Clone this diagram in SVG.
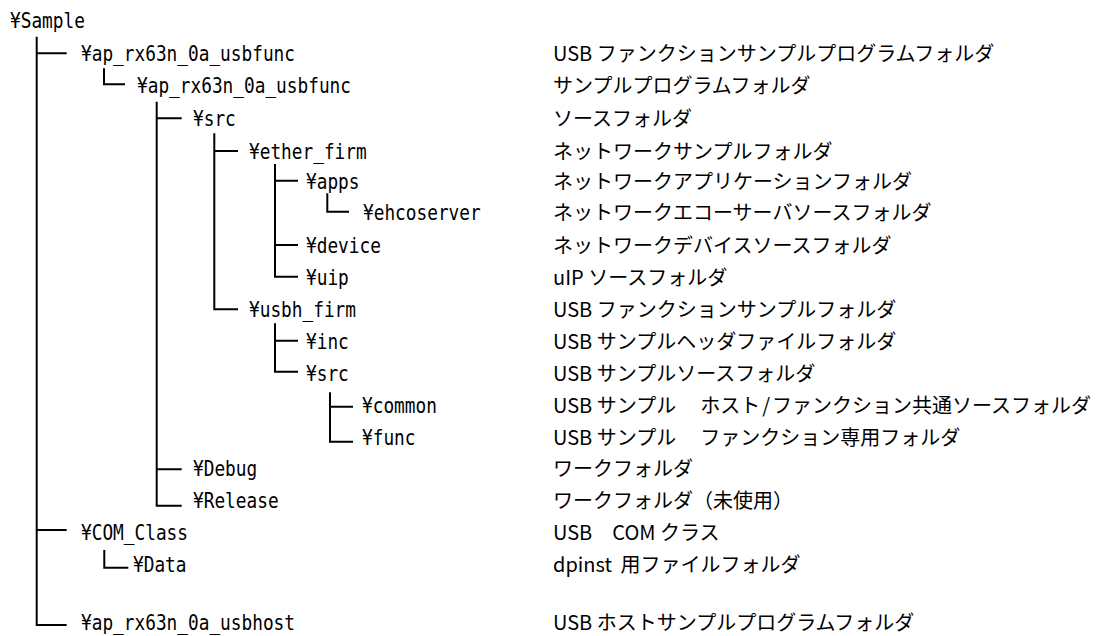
<svg xmlns="http://www.w3.org/2000/svg" width="1114" height="636" viewBox="0 0 1114 636">
<style>
.n{font-family:"DejaVu Sans Mono","Liberation Mono",monospace;font-size:20.5px;fill:#000}
.d{font-family:"Noto Sans CJK JP","Noto Sans",sans-serif;font-size:20px;fill:#000}
.c{fill:none;stroke:#000;stroke-width:2}
</style>
<rect width="1114" height="636" fill="#fff"/>
<g id="connectors" class="c">
<path d="M36.7,36.7 V625 H66.7 M36.7,53.3 H66.7 M36.7,530 H66.7"/>
<path d="M104,68.3 V84.3 H125"/>
<path d="M156.7,101.7 V505.7 H181.7 M156.7,118.3 H181.7 M156.7,469.3 H181.7"/>
<path d="M214.3,133.3 V309.3 H238 M214.3,151 H238"/>
<path d="M275,164 V276.7 H298 M275,180.7 H298 M275,245 H298"/>
<path d="M327.3,193.3 V211.7 H349"/>
<path d="M275,323.3 V371.7 H298 M275,340.7 H298"/>
<path d="M330,392.3 V441.7 H353 M330,406.7 H353"/>
<path d="M104.3,550 V567.7 H128.3"/>
</g>
<g id="n-sample"><text class="n" x="10" y="28" textLength="74.9" lengthAdjust="spacingAndGlyphs">¥Sample</text></g>
<g id="n-usbfunc"><text class="n" x="81" y="61" textLength="214" lengthAdjust="spacingAndGlyphs">¥ap_rx63n_0a_usbfunc</text><text class="d" x="553" y="61">USB ファンクションサンプルプログラムフォルダ</text></g>
<g id="n-usbfunc2"><text class="n" x="137" y="92.5" textLength="214" lengthAdjust="spacingAndGlyphs">¥ap_rx63n_0a_usbfunc</text><text class="d" x="553" y="92.5">サンプルプログラムフォルダ</text></g>
<g id="n-src"><text class="n" x="193" y="125.5" textLength="42.8" lengthAdjust="spacingAndGlyphs">¥src</text><text class="d" x="553" y="125.5">ソースフォルダ</text></g>
<g id="n-ether"><text class="n" x="249" y="158.5" textLength="117.7" lengthAdjust="spacingAndGlyphs">¥ether_firm</text><text class="d" x="553" y="158.5">ネットワークサンプルフォルダ</text></g>
<g id="n-apps"><text class="n" x="306" y="188.5" textLength="53.5" lengthAdjust="spacingAndGlyphs">¥apps</text><text class="d" x="553" y="188.5">ネットワークアプリケーションフォルダ</text></g>
<g id="n-ehco"><text class="n" x="363" y="219.5" textLength="117.7" lengthAdjust="spacingAndGlyphs">¥ehcoserver</text><text class="d" x="553" y="219.5">ネットワークエコーサーバソースフォルダ</text></g>
<g id="n-device"><text class="n" x="306" y="252.5" textLength="74.9" lengthAdjust="spacingAndGlyphs">¥device</text><text class="d" x="553" y="252.5">ネットワークデバイスソースフォルダ</text></g>
<g id="n-uip"><text class="n" x="306" y="284.5" textLength="42.8" lengthAdjust="spacingAndGlyphs">¥uip</text><text class="d" x="553" y="284.5">uIP ソースフォルダ</text></g>
<g id="n-usbh"><text class="n" x="249" y="316.5" textLength="107" lengthAdjust="spacingAndGlyphs">¥usbh_firm</text><text class="d" x="553" y="316.5">USB ファンクションサンプルフォルダ</text></g>
<g id="n-inc"><text class="n" x="306" y="348.5" textLength="42.8" lengthAdjust="spacingAndGlyphs">¥inc</text><text class="d" x="553" y="348.5">USB サンプルヘッダファイルフォルダ</text></g>
<g id="n-src2"><text class="n" x="306" y="380.5" textLength="42.8" lengthAdjust="spacingAndGlyphs">¥src</text><text class="d" x="553" y="380.5">USB サンプルソースフォルダ</text></g>
<g id="n-common"><text class="n" x="362" y="412.5" textLength="74.9" lengthAdjust="spacingAndGlyphs">¥common</text><text class="d" x="553" y="412.5">USB サンプル　<tspan dx="4">ホスト</tspan><tspan dx="2">/</tspan><tspan dx="2">ファンクション共通ソースフォルダ</tspan></text></g>
<g id="n-func"><text class="n" x="362" y="444.5" textLength="53.5" lengthAdjust="spacingAndGlyphs">¥func</text><text class="d" x="553" y="444.5">USB サンプル　<tspan dx="4">ファンクション専用フォルダ</tspan></text></g>
<g id="n-debug"><text class="n" x="193" y="475.5" textLength="64.2" lengthAdjust="spacingAndGlyphs">¥Debug</text><text class="d" x="553" y="475.5">ワークフォルダ</text></g>
<g id="n-release"><text class="n" x="193" y="507.5" textLength="85.6" lengthAdjust="spacingAndGlyphs">¥Release</text><text class="d" x="553" y="507.5">ワークフォルダ（未使用）</text></g>
<g id="n-com"><text class="n" x="81" y="539.5" textLength="107" lengthAdjust="spacingAndGlyphs">¥COM_Class</text><text class="d" x="553" y="539.5">USB　COM クラス</text></g>
<g id="n-data"><text class="n" x="133" y="571.5" textLength="53.5" lengthAdjust="spacingAndGlyphs">¥Data</text><text class="d" x="553" y="571.5">dpinst <tspan dx="4">用ファイルフォルダ</tspan></text></g>
<g id="n-usbhost"><text class="n" x="81" y="629.5" textLength="214" lengthAdjust="spacingAndGlyphs">¥ap_rx63n_0a_usbhost</text><text class="d" x="553" y="629.5">USB ホストサンプルプログラムフォルダ</text></g>
</svg>
